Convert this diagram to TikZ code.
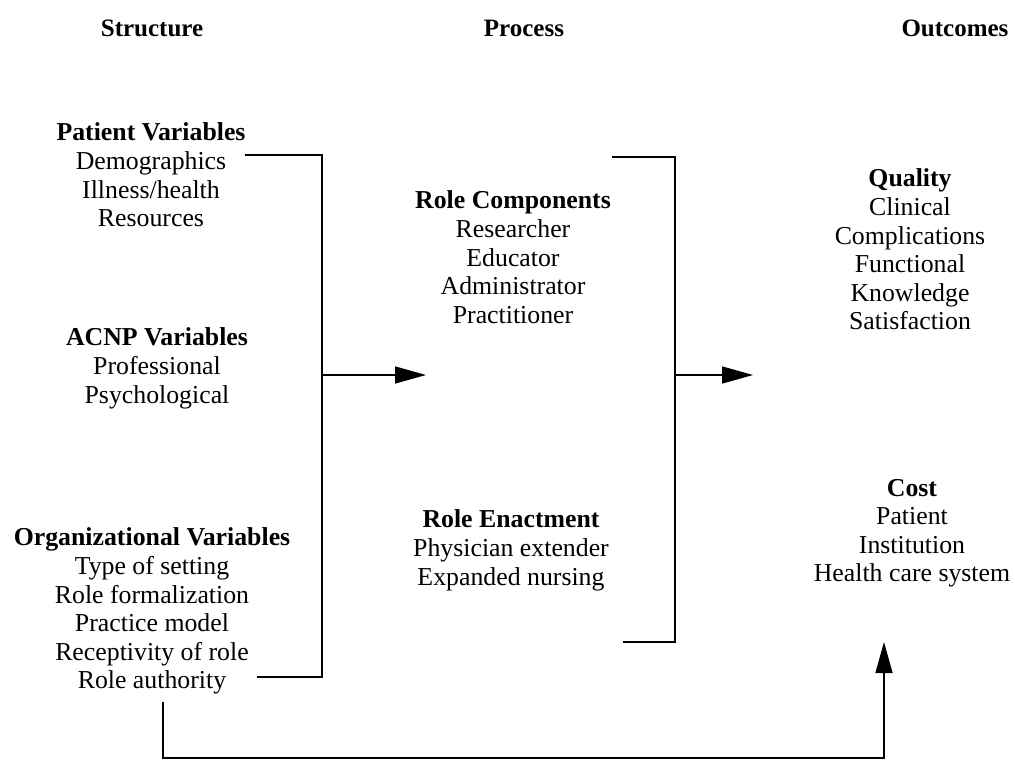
\documentclass[tikz,border=0pt]{standalone}
\usepackage{fontspec}
\setmainfont{Liberation Serif}
\usetikzlibrary{arrows.meta}
\begin{document}
\begin{tikzpicture}[x=1pt,y=-1pt,
  txt/.style={inner sep=0pt,outer sep=0pt,anchor=north,align=center,font=\fontsize{25.8}{28.6}\selectfont},
  ttl/.style={inner sep=0pt,outer sep=0pt,anchor=center,font=\fontsize{25}{28}\selectfont\bfseries},
  ln/.style={line width=1.5pt},
  arr/.style={ln,-{Triangle[length=31pt,width=17pt]}}]
\useasboundingbox (0,0) rectangle (1015,760);
% titles
\node[ttl] (tS) at (152,28) {Structure};
\node[ttl] (tP) at (524,28) {Process};
\node[ttl] (tO) at (955,28) {Outcomes};
% left column
\node[txt] (pat) at (151,123) {\textbf{Patient Variables}\\Demographics\\Illness/health\\Resources};
\node[txt] (acnp) at (157,328) {\textbf{ACNP Variables}\\Professional\\Psychological};
\node[txt] (org) at (152,528) {\textbf{Organizational Variables}\\Type of setting\\Role formalization\\Practice model\\Receptivity of role\\Role authority};
% middle column
\node[txt] (rc) at (513,191) {\textbf{Role Components}\\Researcher\\Educator\\Administrator\\Practitioner};
\node[txt] (re) at (511,510) {\textbf{Role Enactment}\\Physician extender\\Expanded nursing};
% right column
\node[txt] (qual) at (910,169) {\textbf{Quality}\\Clinical\\Complications\\Functional\\Knowledge\\Satisfaction};
\node[txt] (cost) at (912,479) {\textbf{Cost}\\Patient\\Institution\\Health care system};
% connector coordinates
\coordinate (lb1) at (245,155);
\coordinate (lb2) at (322,155);
\coordinate (lb3) at (322,677);
\coordinate (lb4) at (257,677);
\coordinate (la0) at (322,375);
\coordinate (la1) at (426,375);
\coordinate (mb1) at (612,157);
\coordinate (mb2) at (675,157);
\coordinate (mb3) at (675,642);
\coordinate (mb4) at (623,642);
\coordinate (ma0) at (675,375);
\coordinate (ma1) at (753,375);
\coordinate (fb0) at (163,702);
\coordinate (fb1) at (163,758);
\coordinate (fb2) at (884,758);
\coordinate (fb3) at (884,642);
% brackets
\draw[ln] (lb1) -- (lb2) -- (lb3) -- (lb4);
\draw[ln] (mb1) -- (mb2) -- (mb3) -- (mb4);
% arrows
\draw[arr] (la0) -- (la1);
\draw[arr] (ma0) -- (ma1);
\draw[arr] (fb0) -- (fb1) -- (fb2) -- (fb3);
\end{tikzpicture}
\end{document}
